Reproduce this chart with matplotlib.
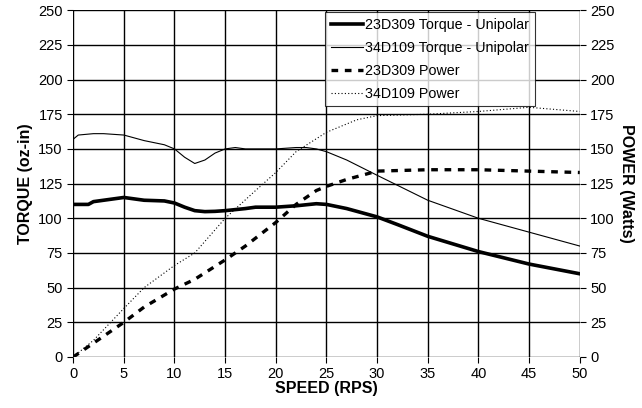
import matplotlib
matplotlib.use("Agg")
import matplotlib.pyplot as plt

plt.rcParams["font.family"] = ["Liberation Sans", "DejaVu Sans"]

# 23D309 torque (oz-in)
t1_x = [0, 1.5, 2, 3, 5, 7, 9, 10, 11, 12, 13, 14, 15, 17, 18, 20, 22, 24, 25, 27, 30, 32, 35, 40, 45, 50]
t1_y = [110, 110, 112, 113, 115, 113, 112.5, 111, 108, 105.5, 104.8, 105, 105.5, 107, 108, 108, 109, 110.5, 110, 107, 101, 95.5, 87, 76, 67, 60]

# 34D109 torque (oz-in)
t2_x = [0, 0.5, 2, 3, 5, 7, 9, 10, 11, 12, 13, 14, 15, 16, 17, 20, 22, 23, 24, 25, 27, 30, 35, 40, 45, 50]
t2_y = [157, 160, 161, 161, 160, 156, 153, 150, 144, 139.5, 142, 147, 150, 151, 150, 150, 151, 151, 150, 148, 142, 131, 113, 100, 90, 80]

# 23D309 power (W)
p1_x = [0, 2, 5, 7, 10, 12, 15, 17, 20, 22, 24, 25, 27, 30, 35, 40, 45, 50]
p1_y = [0, 10, 25, 36, 49, 56, 70, 80, 97, 110, 120, 123, 128, 134, 135, 135, 134, 133]

# 34D109 power (W)
p2_x = [0, 2, 5, 7, 10, 12, 15, 18, 20, 22, 25, 28, 30, 35, 40, 45, 50]
p2_y = [0, 12, 35, 50, 66, 75, 100, 120, 133, 148, 162, 171, 174, 175, 177, 180, 177]

ticks_x = list(range(0, 51, 5))
ticks_y = list(range(0, 251, 25))

fig = plt.figure(figsize=(6.42, 4.08), dpi=100)
ax = fig.add_axes([0.114, 0.125, 0.789, 0.85])
ax2 = ax.twinx()

l1, = ax.plot(t1_x, t1_y, color="black", lw=2.6, label="23D309 Torque - Unipolar")
l2, = ax.plot(t2_x, t2_y, color="black", lw=0.8, label="34D109 Torque - Unipolar")
l3, = ax2.plot(p1_x, p1_y, color="black", lw=2.4, ls=(0, (2, 2)), label="23D309 Power")
l4, = ax2.plot(p2_x, p2_y, color="black", lw=0.8, ls=(0, (1, 2)), label="34D109 Power")

for a in (ax, ax2):
    a.set_xlim(0, 50)
    a.set_ylim(0, 250)
    a.set_yticks(ticks_y)
    a.tick_params(labelsize=10.5, length=4, width=0.8)
ax.set_xticks(ticks_x)
ax.grid(True, color="black", lw=1.0)
ax.set_axisbelow(True)
for s in ax.spines.values():
    s.set_visible(False)
for s in ax2.spines.values():
    s.set_visible(False)

ax.set_xlabel("SPEED (RPS)", fontsize=11.5, fontweight="bold", labelpad=0)
ax.set_ylabel("TORQUE (oz-in)", fontsize=11.5, fontweight="bold")
ax2.set_ylabel("POWER (Watts)", fontsize=11.5, fontweight="bold", rotation=270, labelpad=14)

leg = ax2.legend(handles=[l1, l2, l3, l4], loc="upper right", bbox_to_anchor=(0.911, 0.994),
                 fontsize=10.3, frameon=True, fancybox=False, edgecolor="black",
                 handlelength=2.3, handletextpad=0.1, borderpad=0.4, labelspacing=0.62,
                 borderaxespad=0)
leg.get_frame().set_linewidth(0.8)

fig.savefig("out.png", dpi=100)
